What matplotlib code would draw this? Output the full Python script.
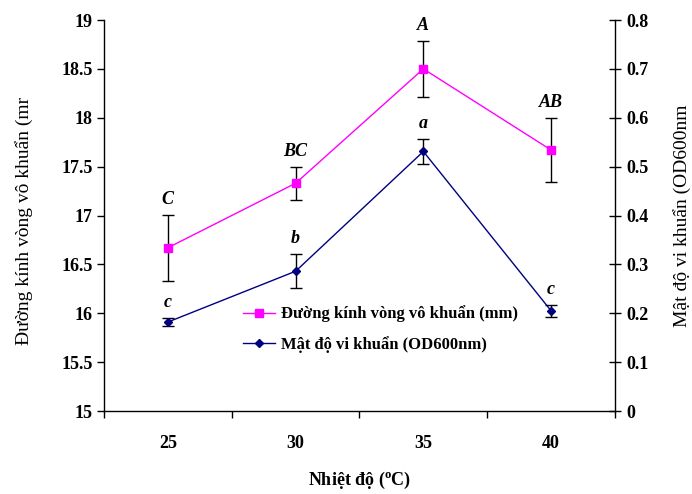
import matplotlib
matplotlib.use("Agg")
import matplotlib.pyplot as plt
from matplotlib.lines import Line2D

plt.rcParams['font.family'] = ['Liberation Serif', 'DejaVu Serif']
plt.rcParams['mathtext.fontset'] = 'custom'
plt.rcParams['mathtext.rm'] = 'Liberation Serif'
plt.rcParams['mathtext.bf'] = 'Liberation Serif:bold'

categories = ['25', '30', '35', '40']
diameter = [16.67, 17.33, 18.50, 17.67]
diameter_err = [0.34, 0.17, 0.29, 0.33]
diameter_letters = ['C', 'BC', 'A', 'AB']
density = [0.182, 0.286, 0.531, 0.205]
density_err = [0.009, 0.035, 0.025, 0.012]
density_letters = ['c', 'b', 'a', 'c']
left_ticks = [15, 15.5, 16, 16.5, 17, 17.5, 18, 18.5, 19]
right_ticks = [0, 0.1, 0.2, 0.3, 0.4, 0.5, 0.6, 0.7, 0.8]

fig = plt.figure(figsize=(6.92, 4.94), dpi=100)
ax = fig.add_axes([0.1503, 0.168, 0.7384, 0.7915])
ax2 = ax.twinx()

x = list(range(len(categories)))

ax.errorbar(x, diameter, yerr=diameter_err, color='#FF00FF', lw=1.0,
            marker='s', ms=5.2, mfc='#FF00FF', mec='#FF00FF',
            ecolor='black', elinewidth=1.0, capsize=4, capthick=1.0, zorder=3)
ax2.errorbar(x, density, yerr=density_err, color='#000080', lw=1.0,
             marker='D', ms=4.5, mfc='#000080', mec='#000080',
             ecolor='black', elinewidth=1.0, capsize=4, capthick=1.0, zorder=3)

for xi, v, e, t in zip(x, diameter, diameter_err, diameter_letters):
    ax.annotate(t, (xi, v + e), xytext=(0, 5), textcoords='offset points',
                ha='center', va='bottom', fontsize=13, fontweight='bold', style='italic')
for xi, v, e, t in zip(x, density, density_err, density_letters):
    ax2.annotate(t, (xi, v + e), xytext=(0, 5), textcoords='offset points',
                 ha='center', va='bottom', fontsize=13, fontweight='bold', style='italic')

ax.set_xlim(-0.5, len(categories) - 0.5)
ax.set_ylim(15, 19)
ax2.set_ylim(0, 0.8)

ax.set_xticks([i - 0.5 for i in range(len(categories) + 1)])
ax.set_xticklabels([])
ax.set_xticks(x, minor=True)
ax.set_xticklabels(categories, minor=True, fontsize=13, fontweight='bold')
ax.tick_params(axis='x', which='major', direction='out', length=5, width=1)
ax.tick_params(axis='x', which='minor', length=0, pad=17)

ax.set_yticks(left_ticks)
ax.set_yticklabels([f'{t:g}' for t in left_ticks], fontsize=13, fontweight='bold')
ax.tick_params(axis='y', direction='out', length=5, width=1, pad=3)

ax2.set_yticks(right_ticks)
ax2.set_yticklabels([f'{t:g}' for t in right_ticks], fontsize=13, fontweight='bold')
ax2.tick_params(axis='y', direction='inout', length=9, width=1, pad=4)

for a in (ax, ax2):
    a.spines['top'].set_visible(False)
    for s in a.spines.values():
        s.set_linewidth(1.0)
        s.set_color('black')
ax.spines['right'].set_visible(False)
ax2.spines['left'].set_visible(False)
ax2.spines['bottom'].set_visible(False)

ax.set_xlabel('Nhiệt độ ($^{\\mathbf{o}}$C)', fontsize=13, fontweight='bold')
ax.xaxis.set_label_coords(0.5, -0.150)
ax.set_ylabel('Đường kính vòng vô khuẩn (mr', fontsize=14)
ax.yaxis.set_label_coords(-0.138, 0.487)
ax2.set_ylabel('Mật độ vi khuẩn (OD600nm', fontsize=14)
ax2.yaxis.set_label_coords(1.113, 0.50)

handles = [
    Line2D([], [], color='#FF00FF', lw=1.0, marker='s', ms=5.2, mfc='#FF00FF', mec='#FF00FF'),
    Line2D([], [], color='#000080', lw=1.0, marker='D', ms=4.5, mfc='#000080', mec='#000080'),
]
labels = ['Đường kính vòng vô khuẩn (mm)', 'Mật độ vi khuẩn (OD600nm)']
leg = ax2.legend(handles, labels, loc='upper left', bbox_to_anchor=(0.272, 0.27),
                 frameon=False, borderaxespad=0, borderpad=0, handlelength=1.9,
                 handletextpad=0.4, labelspacing=0.8,
                 prop={'family': 'Liberation Serif', 'weight': 'bold', 'size': 12})

fig.savefig('out.png', dpi=100)
